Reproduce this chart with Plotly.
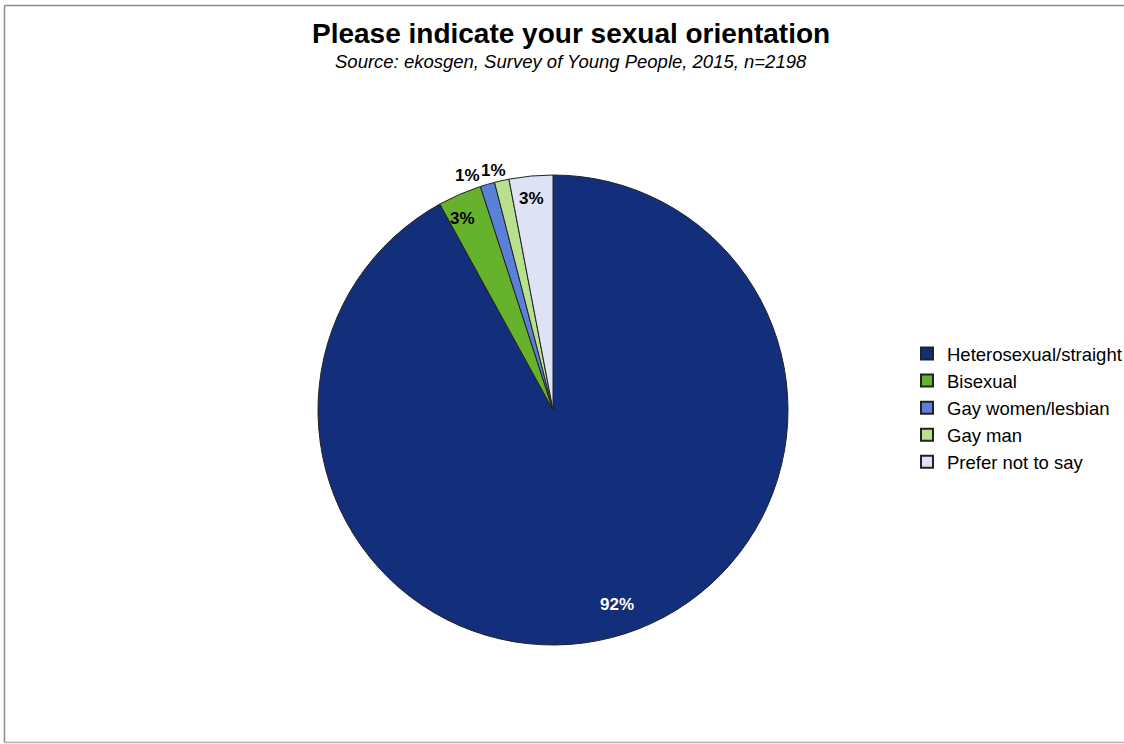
import math
import plotly.graph_objects as go

# Survey responses (share of respondents, %)
categories = ["Heterosexual/straight", "Bisexual", "Gay women/lesbian", "Gay man", "Prefer not to say"]
shares = [92, 3, 1, 1, 3]
colors = ["#132E7B", "#66B22D", "#5B80D8", "#B9E08F", "#DEE2F5"]

# data-label styling per slice
label_inside = [True, True, False, False, True]
label_col = ["white", "black", "black", "black", "black"]
label_nudge = [(13, 6), (-8, 2), (-5, -5), (7, -4), (-2, 6)]  # fine pixel offsets (x right, y up)

W, H = 1124, 744
FONT = "Liberation Sans, Arial, sans-serif"

# pie geometry in pixels
CX, CY, R = 553, 410, 235

fig = go.Figure(
    go.Pie(
        labels=categories,
        values=shares,
        sort=False,
        direction="clockwise",
        rotation=0,
        marker=dict(colors=colors, line=dict(color="#222222", width=1)),
        textinfo="none",
        hoverinfo="label+percent",
        domain=dict(x=[(CX - R) / W, (CX + R) / W], y=[(H - CY - R) / H, (H - CY + R) / H]),
    )
)

# data labels placed along each slice's mid-angle (clockwise from 12 o'clock)
annotations = []
total = sum(shares)
cum = 0
for val, inside, col, (nx, ny) in zip(shares, label_inside, label_col, label_nudge):
    mid = (cum + val / 2) / total * 2 * math.pi
    cum += val
    dx, dy = math.sin(mid), math.cos(mid)
    if inside:
        r = 0.88 * R
        ax, ay = "center", "middle"
    else:
        r = 1.01 * R
        ax, ay = "right", "bottom"
    xa, ya = CX + r * dx, CY - r * dy
    annotations.append(dict(
        text=f"<b>{val}%</b>",
        x=xa / W, y=(H - ya) / H, xref="paper", yref="paper",
        xanchor=ax, yanchor=ay, xshift=nx, yshift=ny, showarrow=False,
        font=dict(family=FONT, size=17, color=col),
    ))

annotations += [
    dict(
        text="<b>Please indicate your sexual orientation</b>",
        x=571 / W, y=(H - 34) / H, xref="paper", yref="paper",
        xanchor="center", yanchor="middle", showarrow=False,
        font=dict(family=FONT, size=28, color="black"),
    ),
    dict(
        text="<i>Source: ekosgen, Survey of Young People, 2015, n=2198</i>",
        x=571 / W, y=(H - 61) / H, xref="paper", yref="paper",
        xanchor="center", yanchor="middle", showarrow=False,
        font=dict(family=FONT, size=18.5, color="black"),
    ),
]

fig.update_layout(
    width=W,
    height=H,
    margin=dict(l=0, r=0, t=0, b=0, autoexpand=False),
    paper_bgcolor="white",
    plot_bgcolor="white",
    font=dict(family=FONT, color="black"),
    showlegend=True,
    legend=dict(
        x=907 / W,
        y=(H - 408) / H,
        xanchor="left",
        yanchor="middle",
        font=dict(family=FONT, size=18.5, color="black"),
        itemsizing="constant",
        bgcolor="rgba(0,0,0,0)",
    ),
    annotations=annotations,
    shapes=[
        # chart frame (left, top, bottom edges)
        dict(type="line", xref="paper", yref="paper", x0=4.5 / W, x1=4.5 / W, y0=(H - 742.5) / H, y1=(H - 5.5) / H,
             line=dict(color="#8c8c8c", width=1.5)),
        dict(type="line", xref="paper", yref="paper", x0=4.5 / W, x1=1, y0=(H - 5.5) / H, y1=(H - 5.5) / H,
             line=dict(color="#8c8c8c", width=1.5)),
        dict(type="line", xref="paper", yref="paper", x0=4.5 / W, x1=1, y0=(H - 742.5) / H, y1=(H - 742.5) / H,
             line=dict(color="#b0b0b0", width=1.5)),
    ],
)

fig.write_html("out.html")
